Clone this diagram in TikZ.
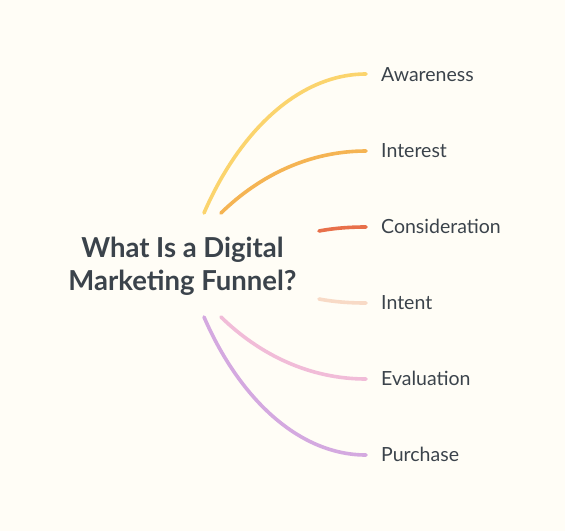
\documentclass[tikz,border=0pt]{standalone}
\usepackage{fontspec}
\setmainfont{Lato}
\definecolor{bg}{HTML}{FFFDF6}
\definecolor{txt}{HTML}{3B434B}
\definecolor{cA}{HTML}{FBD46D}
\definecolor{cB}{HTML}{F5B453}
\definecolor{cC}{HTML}{E8704A}
\definecolor{cD}{HTML}{F8DAC6}
\definecolor{cE}{HTML}{F1BCD8}
\definecolor{cF}{HTML}{D4A9E0}
\begin{document}
\begin{tikzpicture}[x=1pt,y=-1pt,
  lbl/.style={anchor=base west,inner sep=0pt,text=txt,font=\fontsize{19.5}{22}\selectfont},
  ttl/.style={anchor=base,inner sep=0pt,text=txt,font=\bfseries\fontsize{27.5}{30}\selectfont},
  br/.style={line width=3.6pt,line cap=round}]
\fill[bg] (0,0) rectangle (565,531);
\useasboundingbox (0,0) rectangle (565,531);
\node[ttl] (title1) at (182.5,257) {What Is a Digital};
\node[ttl] (title2) at (182.5,290) {Marketing Funnel?};
\coordinate (sA) at (204,213);
\coordinate (sB) at (221,213);
\coordinate (sC) at (319,231);
\coordinate (sD) at (319,299);
\coordinate (sE) at (221,317);
\coordinate (sF) at (204,317);
\coordinate (eA) at (366,74);
\coordinate (eB) at (366,151);
\coordinate (eC) at (366,227);
\coordinate (eD) at (366,303);
\coordinate (eE) at (366,379);
\coordinate (eF) at (366,455);
\node[lbl] (lA) at (381,81.5) {Awareness};
\node[lbl] (lB) at (381,157.5) {Interest};
\node[lbl] (lC) at (381,233.5) {Consideration};
\node[lbl] (lD) at (381,309.5) {Intent};
\node[lbl] (lE) at (381,385.5) {Evaluation};
\node[lbl] (lF) at (381,461.5) {Purchase};
\draw[br,cA] (sA) .. controls (240,130) and (300,74) .. (eA);
\draw[br,cB] (sB) .. controls (260,175) and (310,151) .. (eB);
\draw[br,cC] (sC) .. controls (335,228) and (350,227) .. (eC);
\draw[br,cD] (sD) .. controls (335,302) and (350,303) .. (eD);
\draw[br,cE] (sE) .. controls (260,355) and (310,379) .. (eE);
\draw[br,cF] (sF) .. controls (240,400) and (300,455) .. (eF);
\end{tikzpicture}
\end{document}
